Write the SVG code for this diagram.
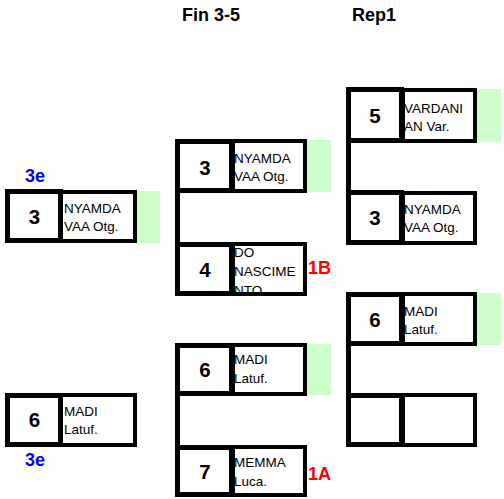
<svg xmlns="http://www.w3.org/2000/svg" width="504" height="499" viewBox="0 0 504 499">
<style>
.num{fill:none;stroke:#000;stroke-width:5}
.nm{fill:none;stroke:#000;stroke-width:4}
.grn{fill:#ccffcc}
.n{font-family:"Liberation Sans",Arial,sans-serif;font-weight:bold;font-size:20.5px;text-anchor:middle;fill:#000}
.t{font-family:"Liberation Sans",Arial,sans-serif;font-size:13.5px;fill:#000}
.h{font-family:"Liberation Sans",Arial,sans-serif;font-weight:bold;font-size:18px;fill:#000}
.red{font-family:"Liberation Sans",Arial,sans-serif;font-weight:bold;font-size:18px;fill:#ff0000}
.blue{font-family:"Liberation Sans",Arial,sans-serif;font-weight:bold;font-size:18px;fill:#0000ff}
.conn{stroke:#000;stroke-width:5;fill:none}
</style>
<rect x="0" y="0" width="504" height="499" fill="#fff"/>
<text class="h" x="182" y="21">Fin 3-5</text>
<text class="h" x="352" y="21">Rep1</text>
<g id="connectors">
<line class="conn" x1="177.5" y1="192" x2="177.5" y2="244"/>
<line class="conn" x1="177.5" y1="395" x2="177.5" y2="447"/>
<line class="conn" x1="348.5" y1="142" x2="348.5" y2="192"/>
<line class="conn" x1="348.5" y1="345" x2="348.5" y2="395"/>
</g>
<g id="l1">
<rect class="grn" x="137" y="191" width="23" height="52"/>
<text class="t" x="64" y="213">NYAMDA</text>
<text class="t" x="64" y="231">VAA Otg.</text>
<rect class="nm" x="61" y="192" width="74" height="49"/>
<rect class="num" x="7.5" y="191.5" width="53" height="49"/>
<text class="n" x="34.5" y="223.5">3</text>
<text class="blue" x="25" y="182">3e</text>
</g>
<g id="l2">
<text class="t" x="64" y="416">MADI</text>
<text class="t" x="64" y="434">Latuf.</text>
<rect class="nm" x="61" y="395" width="74" height="50"/>
<rect class="num" x="7.5" y="395.5" width="53" height="49"/>
<text class="n" x="34.5" y="427">6</text>
<text class="blue" x="25" y="466">3e</text>
</g>
<g id="m1">
<rect class="grn" x="307" y="140" width="24" height="52"/>
<text class="t" x="234" y="163">NYAMDA</text>
<text class="t" x="234" y="181">VAA Otg.</text>
<rect class="nm" x="233" y="141" width="72" height="50"/>
<rect class="num" x="177.5" y="141.5" width="54" height="49"/>
<text class="n" x="205" y="174.5">3</text>
</g>
<g id="m2">
<text class="t" x="234" y="257">DO</text>
<text class="t" x="234" y="276">NASCIME</text>
<text class="t" x="234" y="295">NTO.</text>
<rect fill="#fff" x="231" y="296" width="80" height="4"/>
<rect class="nm" x="233" y="244" width="72" height="50"/>
<rect class="num" x="177.5" y="244.5" width="54" height="49"/>
<text class="n" x="205" y="277">4</text>
<text class="red" x="308" y="274">1B</text>
</g>
<g id="m3">
<rect class="grn" x="307" y="344" width="24" height="51"/>
<text class="t" x="234" y="364">MADI</text>
<text class="t" x="234" y="383">Latuf.</text>
<rect class="nm" x="233" y="345" width="72" height="49"/>
<rect class="num" x="177.5" y="345.5" width="54" height="48"/>
<text class="n" x="205" y="377">6</text>
</g>
<g id="m4">
<text class="t" x="234" y="467">MEMMA</text>
<text class="t" x="234" y="486">Luca.</text>
<rect class="nm" x="233" y="447" width="72" height="48"/>
<rect class="num" x="177.5" y="447.5" width="54" height="47"/>
<text class="n" x="205" y="479">7</text>
<text class="red" x="308" y="480">1A</text>
</g>
<g id="r1">
<rect class="grn" x="477" y="89" width="24" height="53"/>
<text class="t" x="404" y="112.5">VARDANI</text>
<text class="t" x="404" y="131">AN Var.</text>
<rect class="nm" x="403" y="90" width="72" height="51"/>
<rect class="num" x="348.5" y="89.5" width="53" height="51"/>
<text class="n" x="375" y="123">5</text>
</g>
<g id="r2">
<text class="t" x="404" y="214">NYAMDA</text>
<text class="t" x="404" y="232">VAA Otg.</text>
<rect class="nm" x="403" y="193" width="72" height="50"/>
<rect class="num" x="348.5" y="192.5" width="53" height="50"/>
<text class="n" x="375" y="224.5">3</text>
</g>
<g id="r3">
<rect class="grn" x="477" y="293" width="24" height="52"/>
<text class="t" x="404" y="316">MADI</text>
<text class="t" x="404" y="334">Latuf.</text>
<rect class="nm" x="403" y="294" width="72" height="50"/>
<rect class="num" x="348.5" y="294.5" width="53" height="49"/>
<text class="n" x="375" y="326.5">6</text>
</g>
<g id="r4">
<rect class="nm" x="403" y="395" width="72" height="50"/>
<rect class="num" x="348.5" y="395.5" width="53" height="49"/>
</g>
</svg>
